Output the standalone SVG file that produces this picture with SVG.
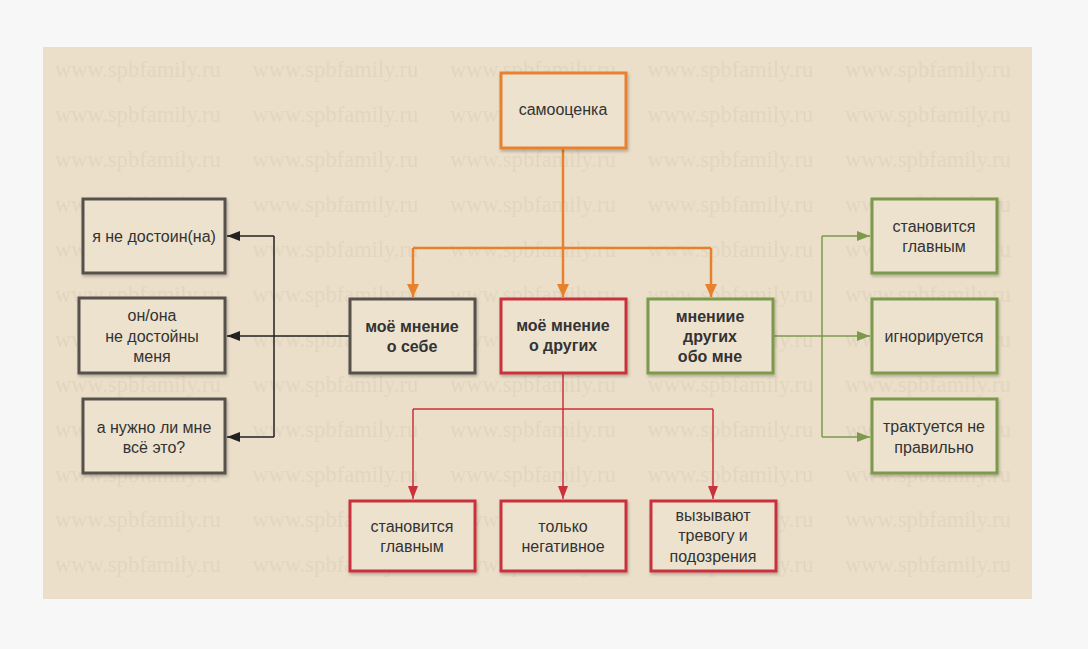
<svg xmlns="http://www.w3.org/2000/svg" width="1088" height="649" viewBox="0 0 1088 649">
  <defs>
    <style>
      .box { fill: #ede2ce; stroke-width: 3; filter: url(#sh); }
      .orange { stroke: #e8812e; }
      .gray { stroke: #56514c; }
      .red { stroke: #c9323d; }
      .green { stroke: #7b9a4c; }
      .t { font-family: "Liberation Sans", Arial, sans-serif; font-size: 16px; fill: #333; text-anchor: middle; }
      .b { font-weight: bold; font-size: 16px; }
      .wm { font-family: "Liberation Serif", "Times New Roman", serif; font-size: 22.5px; fill: #e2d5bf; }
      .c { fill: none; }
    </style>
    <filter id="sh" x="-10%" y="-10%" width="130%" height="130%">
      <feDropShadow dx="1" dy="2" stdDeviation="1.5" flood-color="#000" flood-opacity="0.25"/>
    </filter>
    <pattern id="wmp" patternUnits="userSpaceOnUse" x="45" y="47" width="197.5" height="45">
      <text class="wm" x="10" y="30">www.spbfamily.ru</text>
    </pattern>
    <marker id="ao" markerUnits="userSpaceOnUse" markerWidth="14" markerHeight="12" refX="13" refY="6" orient="auto">
      <path d="M0,0 L13,6 L0,12 z" fill="#e8812e"/>
    </marker>
    <marker id="ak" markerUnits="userSpaceOnUse" markerWidth="14" markerHeight="10" refX="13" refY="5" orient="auto">
      <path d="M0,0 L13,5 L0,10 z" fill="#222"/>
    </marker>
    <marker id="ar" markerUnits="userSpaceOnUse" markerWidth="14" markerHeight="10" refX="13" refY="5" orient="auto">
      <path d="M0,0 L13,5 L0,10 z" fill="#c9323d"/>
    </marker>
    <marker id="ag" markerUnits="userSpaceOnUse" markerWidth="14" markerHeight="10" refX="13" refY="5" orient="auto">
      <path d="M0,0 L13,5 L0,10 z" fill="#7b9a4c"/>
    </marker>
  </defs>

  <rect x="0" y="0" width="1088" height="649" fill="#f7f7f7"/>
  <rect x="43" y="47" width="989" height="552" fill="#ebdfc9"/>
  <rect x="43" y="47" width="989" height="552" fill="url(#wmp)"/>

  <g id="connectors">
    <g stroke="#e8812e" stroke-width="2.5" class="c">
      <path d="M563,149 V297" marker-end="url(#ao)"/>
      <path d="M413,248 H711"/>
      <path d="M413,248 V297" marker-end="url(#ao)"/>
      <path d="M711,248 V297" marker-end="url(#ao)"/>
    </g>
    <g stroke="#222" stroke-width="1.5" class="c">
      <path d="M349,336 H274"/>
      <path d="M274,236 V437"/>
      <path d="M274,236 H227" marker-end="url(#ak)"/>
      <path d="M274,336 H227" marker-end="url(#ak)"/>
      <path d="M274,437 H227" marker-end="url(#ak)"/>
    </g>
    <g stroke="#7b9a4c" stroke-width="1.5" class="c">
      <path d="M774,336 H870" marker-end="url(#ag)"/>
      <path d="M822,236 V437"/>
      <path d="M822,236 H870" marker-end="url(#ag)"/>
      <path d="M822,437 H870" marker-end="url(#ag)"/>
    </g>
    <g stroke="#c9323d" stroke-width="1.5" class="c">
      <path d="M563,374 V499" marker-end="url(#ar)"/>
      <path d="M413,409 H713"/>
      <path d="M413,409 V499" marker-end="url(#ar)"/>
      <path d="M713,409 V499" marker-end="url(#ar)"/>
    </g>
  </g>

  <g id="samoocenka">
    <rect class="box orange" x="501" y="73" width="125" height="75"/>
    <text class="t" x="563" y="115">самооценка</text>
  </g>

  <g id="ya-ne-dostoin">
    <rect class="box gray" x="83" y="199" width="142" height="74"/>
    <text class="t" x="154" y="242">я не достоин(на)</text>
  </g>
  <g id="on-ona">
    <rect class="box gray" x="79" y="298" width="146" height="75"/>
    <text class="t" x="152" y="321">он/она</text>
    <text class="t" x="152" y="342">не достойны</text>
    <text class="t" x="152" y="362">меня</text>
  </g>
  <g id="a-nuzhno">
    <rect class="box gray" x="83" y="399" width="142" height="74"/>
    <text class="t" x="154" y="433">а нужно ли мне</text>
    <text class="t" x="154" y="453">всё это?</text>
  </g>

  <g id="moe-o-sebe">
    <rect class="box gray" x="350" y="299" width="125" height="74"/>
    <text class="t b" x="412" y="332">моё мнение</text>
    <text class="t b" x="412" y="352">о себе</text>
  </g>
  <g id="moe-o-drugih">
    <rect class="box red" x="501" y="299" width="125" height="74"/>
    <text class="t b" x="563" y="331">моё мнение</text>
    <text class="t b" x="563" y="351">о других</text>
  </g>
  <g id="mnenie-drugih">
    <rect class="box green" x="648" y="299" width="125" height="74"/>
    <text class="t b" x="710" y="322">мнениие</text>
    <text class="t b" x="710" y="342">других</text>
    <text class="t b" x="710" y="362">обо мне</text>
  </g>

  <g id="red-glavnym">
    <rect class="box red" x="350" y="501" width="125" height="70"/>
    <text class="t" x="412" y="532">становится</text>
    <text class="t" x="412" y="552">главным</text>
  </g>
  <g id="red-negativnoe">
    <rect class="box red" x="501" y="501" width="125" height="70"/>
    <text class="t" x="563" y="532">только</text>
    <text class="t" x="563" y="552">негативное</text>
  </g>
  <g id="red-trevogu">
    <rect class="box red" x="651" y="501" width="125" height="70"/>
    <text class="t" x="713" y="521">вызывают</text>
    <text class="t" x="713" y="541">тревогу и</text>
    <text class="t" x="713" y="562">подозрения</text>
  </g>

  <g id="green-glavnym">
    <rect class="box green" x="872" y="199" width="125" height="74"/>
    <text class="t" x="934" y="232">становится</text>
    <text class="t" x="934" y="252">главным</text>
  </g>
  <g id="green-ignor">
    <rect class="box green" x="872" y="299" width="125" height="74"/>
    <text class="t" x="934" y="342">игнорируется</text>
  </g>
  <g id="green-traktuetsya">
    <rect class="box green" x="872" y="399" width="125" height="74"/>
    <text class="t" x="934" y="432">трактуется не</text>
    <text class="t" x="934" y="453">правильно</text>
  </g>
</svg>
